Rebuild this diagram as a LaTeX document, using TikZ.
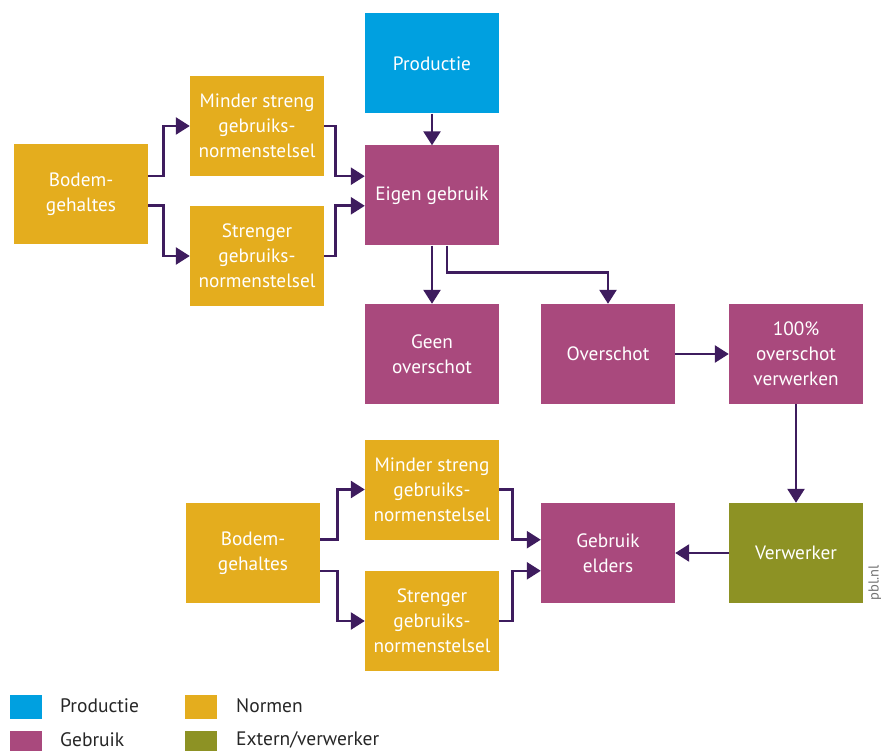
\documentclass[tikz,border=0pt]{standalone}
\usepackage{fontspec}
\setmainfont{PT Sans}
\usetikzlibrary{arrows.meta}
\definecolor{prodblue}{RGB}{0,160,224}
\definecolor{gebruikpurple}{RGB}{169,73,125}
\definecolor{normgold}{RGB}{228,173,30}
\definecolor{externgreen}{RGB}{141,146,36}
\definecolor{arrowpurple}{RGB}{62,28,94}
\begin{document}
\begin{tikzpicture}[
			x=1pt,y=-1pt,
			box/.style={minimum width=134pt,minimum height=100pt,inner sep=0pt,align=center,text=white,font=\fontsize{19.3}{25}\selectfont},
			prodbox/.style={box,fill=prodblue},
			usebox/.style={box,fill=gebruikpurple},
			normbox/.style={box,fill=normgold},
			extbox/.style={box,fill=externgreen},
			arr/.style={draw=arrowpurple,line width=2.6pt,-{Triangle[length=14pt,width=17pt]}},
			key/.style={minimum width=32pt,minimum height=24pt,inner sep=0pt},
			keytext/.style={anchor=west,inner sep=0pt,text=black!85,font=\fontsize{19.5}{22}\selectfont}
		]
		\useasboundingbox (0,0) rectangle (881,751);
		\node[prodbox] (prod) at (432,63.5) {Productie};
		\node[usebox] (eigen) at (432,195.5) {Eigen gebruik};
		\node[normbox] (bodemA) at (81,194) {Bodem-\\gehaltes};
		\node[normbox] (minderA) at (257,126) {Minder streng\\gebruiks-\\normenstelsel};
		\node[normbox] (strengA) at (257,256) {Strenger\\gebruiks-\\normenstelsel};
		\node[usebox] (geen) at (432,354) {Geen\\overschot};
		\node[usebox] (over) at (608,354) {Overschot};
		\node[usebox] (verwerken) at (796,354) {100\%\\overschot\\verwerken};
		\node[extbox] (verwerker) at (796,553) {Verwerker};
		\node[usebox] (elders) at (608,553) {Gebruik\\elders};
		\node[normbox] (minderB) at (432,489.5) {Minder streng\\gebruiks-\\normenstelsel};
		\node[normbox] (strengB) at (432,621) {Strenger\\gebruiks-\\normenstelsel};
		\node[normbox] (bodemB) at (253,553) {Bodem-\\gehaltes};

		\draw[arr] (prod) -- (eigen);
		\draw[arr] (bodemA.east |- minderA.south) -- ++(15,0) |- (minderA);
		\draw[arr] (bodemA.east |- strengA.north) -- ++(15,0) |- (strengA);
		\draw[arr] (minderA.east) -- ++(11,0) |- (eigen.west |- minderA.south);
		\draw[arr] (strengA.east) -- ++(11,0) |- (eigen.west |- strengA.north);
		\draw[arr] (eigen) -- (geen);
		\draw[arr] ([xshift=15pt]eigen.south) -- ++(0,27) -| (over);
		\draw[arr] (over) -- (verwerken);
		\draw[arr] (verwerken) -- (verwerker);
		\draw[arr] (verwerker) -- (elders);
		\draw[arr] (bodemB.east |- minderB.south) -- ++(17,0) |- (minderB);
		\draw[arr] (bodemB.east |- strengB.north) -- ++(17,0) |- (strengB);
		\draw[arr] (minderB.east) -- ++(13,0) |- (elders.west |- minderB.south);
		\draw[arr] (strengB.east) -- ++(13,0) |- (elders.west |- strengB.north);

		\node[rotate=90,text=black!55,font=\fontsize{14.5}{14.5}\selectfont] (pbl) at (875,583) {pbl.nl};

		\node[key,fill=prodblue] (keyprod) at (25.5,707) {};
		\node[keytext] (keyprodtext) at (60,706) {Productie};
		\node[key,fill=normgold] (keynorm) at (201,707) {};
		\node[keytext] (keynormtext) at (236,706) {Normen};
		\node[key,fill=gebruikpurple] (keyuse) at (25.5,743) {};
		\node[keytext] (keyusetext) at (60,740) {Gebruik};
		\node[key,fill=externgreen] (keyext) at (201,743) {};
		\node[keytext] (keyexttext) at (236,740) {Extern/verwerker};
	\end{tikzpicture}
\end{document}
